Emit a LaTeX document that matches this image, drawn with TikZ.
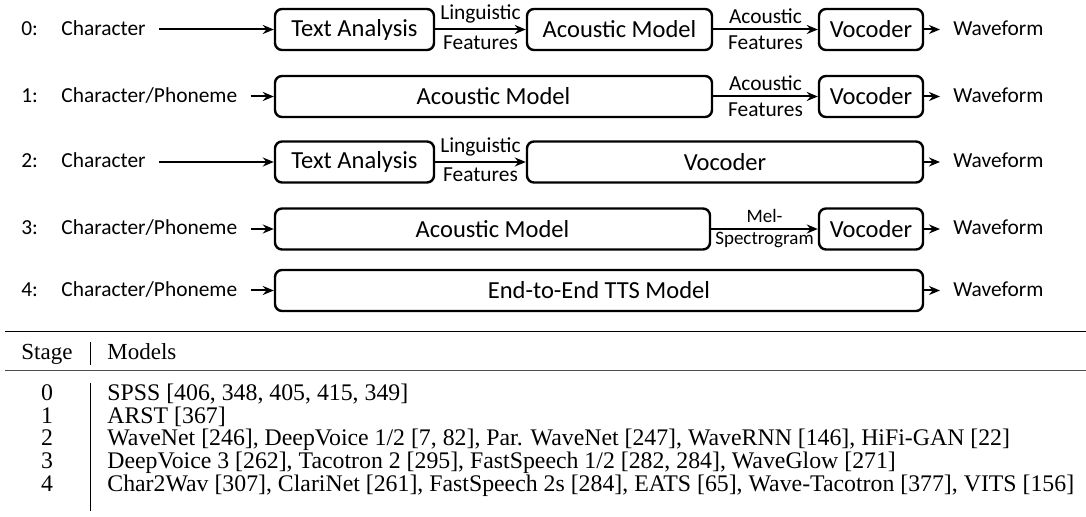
\documentclass[tikz,border=0pt]{standalone}
\usepackage{fontspec}
\setmainfont{Carlito}
\newfontfamily\tabfont{Liberation Serif}
\usetikzlibrary{arrows.meta}

\begin{document}
\begin{tikzpicture}[x=0.5pt, y=-0.5pt, >={Stealth[length=5.5pt,width=4.5pt]},
	blk/.style={draw, line width=1.2pt, rounded corners=3.5pt, minimum height=20.5pt, inner sep=0pt, minimum width=#1*0.5pt, font=\fontsize{12.25}{14}\selectfont},
	side/.style={inner xsep=6.5pt, inner ysep=0pt, text height=1.5ex, text depth=.25ex, font=\fontsize{10.7}{12}\selectfont},
	num/.style={side, inner xsep=0pt, anchor=west},
	lab/.style={inner xsep=0pt, inner ysep=2.5pt, font=\fontsize{10.7}{12}\selectfont},
	flow/.style={->, line width=1pt},
	hd/.style={inner sep=0pt, font=\tabfont\fontsize{11.5}{13}\selectfont},
	bd/.style={inner sep=0pt, font=\tabfont\fontsize{11.9}{13}\selectfont}]
	\useasboundingbox (0,0) rectangle (1086,517);

	% stage 0
	\node[num] (n0) at (21,29.5) {0:};
	\node[side, anchor=west] (in0) at (48,29.5) {Character};
	\node[blk=159] (ta0) at (354.5,29.5) {Text Analysis};
	\node[blk=185] (am0) at (619.5,29.5) {Acoustic Model};
	\node[blk=104] (vc0) at (871,29.5) {Vocoder};
	\node[side, anchor=west] (wf0) at (940,29.5) {Waveform};
	\draw[flow] (in0) -- (ta0);
	\draw[flow] (ta0) -- node[lab, above] {Linguistic} node[lab, below] {Features} (am0);
	\draw[flow] (am0) -- node[lab, above] {Acoustic} node[lab, below] {Features} (vc0);
	\draw[flow] (vc0) -- (wf0);

	% stage 1
	\node[num] (n1) at (21,96.5) {1:};
	\node[side, anchor=west] (in1) at (48,96.5) {Character/Phoneme};
	\node[blk=437] (am1) at (493.5,96.5) {Acoustic Model};
	\node[blk=104] (vc1) at (871,96.5) {Vocoder};
	\node[side, anchor=west] (wf1) at (940,96.5) {Waveform};
	\draw[flow] (in1) -- (am1);
	\draw[flow] (am1) -- node[lab, above] {Acoustic} node[lab, below] {Features} (vc1);
	\draw[flow] (vc1) -- (wf1);

	% stage 2
	\node[num] (n2) at (21,162) {2:};
	\node[side, anchor=west] (in2) at (48,162) {Character};
	\node[blk=159] (ta2) at (354.5,162) {Text Analysis};
	\node[blk=396] (vc2) at (725,162) {Vocoder};
	\node[side, anchor=west] (wf2) at (940,162) {Waveform};
	\draw[flow] (in2) -- (ta2);
	\draw[flow] (ta2) -- node[lab, above] {Linguistic} node[lab, below] {Features} (vc2);
	\draw[flow] (vc2) -- (wf2);

	% stage 3
	\node[num] (n3) at (21,229) {3:};
	\node[side, anchor=west] (in3) at (48,229) {Character/Phoneme};
	\node[blk=435] (am3) at (492.5,229) {Acoustic Model};
	\node[blk=104] (vc3) at (871,229) {Vocoder};
	\node[side, anchor=west] (wf3) at (940,229) {Waveform};
	\draw[flow] (in3) -- (am3);
	\draw[flow] (am3) -- node[lab, above, font=\fontsize{9.5}{11}\selectfont] {Mel-} node[lab, below, inner ysep=1pt, font=\fontsize{9.5}{11}\selectfont] {Spectrogram} (vc3);
	\draw[flow] (vc3) -- (wf3);

	% stage 4
	\node[num] (n4) at (21,290.5) {4:};
	\node[side, anchor=west] (in4) at (48,290.5) {Character/Phoneme};
	\node[blk=648] (e2e) at (599,290.5) {End-to-End TTS Model};
	\node[side, anchor=west] (wf4) at (940,290.5) {Waveform};
	\draw[flow] (in4) -- (e2e);
	\draw[flow] (e2e) -- (wf4);

	% table
	\draw[line width=0.8pt] (5,331.7) -- (1086,331.7);
	\draw[line width=0.5pt, black!70] (5,371) -- (1086,371);
	\draw[line width=0.5pt] (90.7,342) -- (90.7,365);
	\draw[line width=0.5pt] (90.7,383) -- (90.7,511);
	\node[hd, anchor=base] (stage) at (47,359.3) {Stage};
	\node[hd, anchor=base west] (models) at (107,359.3) {Models};
	\foreach \i/\m in {0/{SPSS [406, 348, 405, 415, 349]},
		1/{ARST [367]},
		2/{WaveNet [246], DeepVoice 1/2 [7, 82], Par. WaveNet [247], WaveRNN [146], HiFi-GAN [22]},
		3/{DeepVoice 3 [262], Tacotron 2 [295], FastSpeech 1/2 [282, 284], WaveGlow [271]},
		4/{Char2Wav [307], ClariNet [261], FastSpeech 2s [284], EATS [65], Wave-Tacotron [377], VITS [156]}} {
		\node[bd, anchor=base] (s\i) at (47,{400.4+22.8*\i}) {\i};
		\node[bd, anchor=base west] (m\i) at (107,{400.4+22.8*\i}) {\m};
	}
\end{tikzpicture}
\end{document}
